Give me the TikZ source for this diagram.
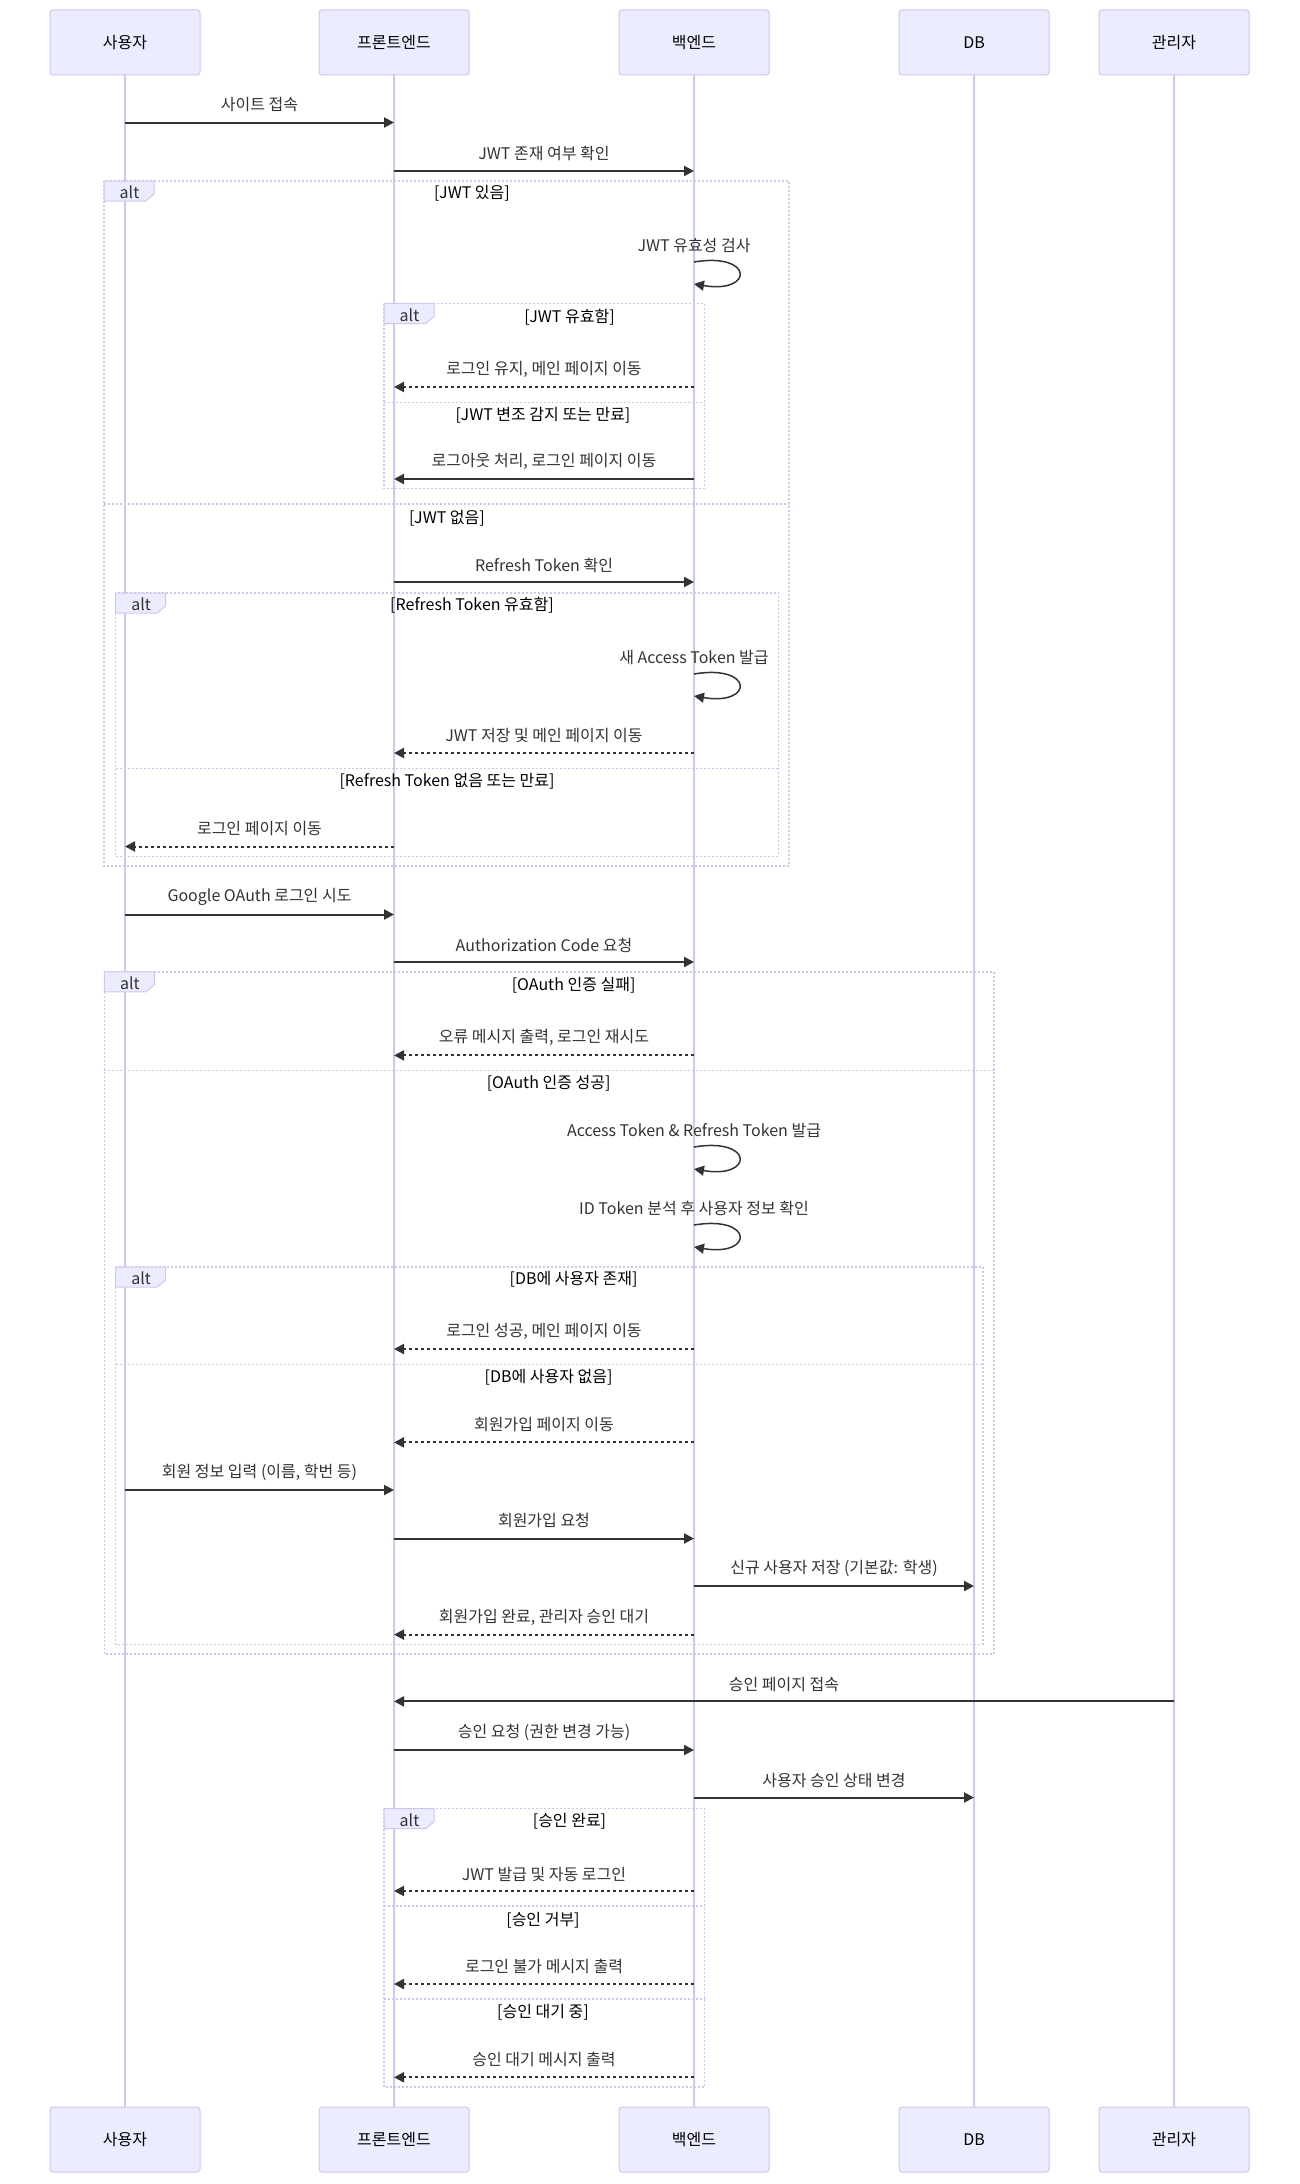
\documentclass[tikz,border=0pt]{standalone}
\usepackage{fontspec}
\setmainfont{Noto Sans CJK KR}
\usetikzlibrary{arrows.meta}
\definecolor{actorfill}{HTML}{ECECFF}
\definecolor{actorline}{HTML}{D2C6F0}
\definecolor{msgcolor}{HTML}{333333}

\begin{document}
\begin{tikzpicture}[x=1pt,y=-1pt]
      \tikzstyle{actor} = [
        rectangle,
        draw=actorline,
        fill=actorfill,
        line width=1pt,
        rounded corners=3pt,
        minimum width=150pt,
        minimum height=65pt,
        inner sep=0pt,
        font=\fontsize{16pt}{19pt}\selectfont
      ]
      \tikzstyle{lifeline} = [draw=actorline, line width=1.5pt]
      \tikzstyle{frame} = [draw=actorline, line width=1.5pt, dash pattern=on 2pt off 2pt]
      \tikzstyle{tag} = [draw=actorline, fill=actorfill, line width=1pt]
      \tikzstyle{msglabel} = [
        text=msgcolor,
        inner sep=0pt,
        yshift=-1.5pt,
        font=\fontsize{16pt}{19pt}\selectfont
      ]
      \tikzstyle{guard} = [msglabel, text=black]
      \tikzstyle{msg} = [draw=msgcolor, line width=2pt, -{Triangle[length=10pt,width=10pt]}]
      \tikzstyle{reply} = [msg, dash pattern=on 3pt off 3pt]
      \tikzstyle{selfmsg} = [draw=msgcolor, line width=1.5pt, -{Triangle[length=10pt,width=10pt]}]

      \fill[white] (0,0) rectangle (1299,2184);
      \useasboundingbox (0,0) rectangle (1299,2184);

      % participants
      \node[actor] (usrTop) at (125,42.5) {사용자};
      \node[actor] (feTop) at (394,42.5) {프론트엔드};
      \node[actor] (beTop) at (694,42.5) {백엔드};
      \node[actor] (dbTop) at (974,42.5) {DB};
      \node[actor] (admTop) at (1174,42.5) {관리자};
      \node[actor] (usrBot) at (125,2139.5) {사용자};
      \node[actor] (feBot) at (394,2139.5) {프론트엔드};
      \node[actor] (beBot) at (694,2139.5) {백엔드};
      \node[actor] (dbBot) at (974,2139.5) {DB};
      \node[actor] (admBot) at (1174,2139.5) {관리자};

      % frames
      \draw[frame] (104,181) rectangle (789,866);
      \draw[frame] (104,504) -- (789,504);
      \draw[frame] (384,303.5) rectangle (704.5,488.7);
      \draw[frame] (384,402.4) -- (704.5,402.4);
      \draw[frame] (115.6,593) rectangle (778.3,856.3);
      \draw[frame] (115.6,768.5) -- (778.3,768.5);
      \draw[frame] (104.4,971.8) rectangle (994,1654);
      \draw[frame] (104.4,1070.7) -- (994,1070.7);
      \draw[frame] (115.6,1267) rectangle (983,1644.3);
      \draw[frame] (115.6,1364.5) -- (983,1364.5);
      \draw[frame] (384,1808.6) rectangle (704.5,2087);
      \draw[frame] (384,1906) -- (704.5,1906);
      \draw[frame] (384,1999) -- (704.5,1999);

      % lifelines
      \draw[lifeline] (usrTop.south) -- (usrBot.north);
      \draw[lifeline] (feTop.south) -- (feBot.north);
      \draw[lifeline] (beTop.south) -- (beBot.north);
      \draw[lifeline] (dbTop.south) -- (dbBot.north);
      \draw[lifeline] (admTop.south) -- (admBot.north);

      % alt tags
      \draw[tag] (104,181) -- ++(50,0) -- ++(0,13) -- ++(-8.4,7) -- ++(-41.6,0) -- cycle;
      \node[msglabel] (tag1) at (129.5,191) {alt};
      \draw[tag] (384,303.5) -- ++(50,0) -- ++(0,13) -- ++(-8.4,7) -- ++(-41.6,0) -- cycle;
      \node[msglabel] (tag2) at (409.5,313.5) {alt};
      \draw[tag] (115.6,593) -- ++(50,0) -- ++(0,13) -- ++(-8.4,7) -- ++(-41.6,0) -- cycle;
      \node[msglabel] (tag3) at (141.1,603) {alt};
      \draw[tag] (104.4,971.8) -- ++(50,0) -- ++(0,13) -- ++(-8.4,7) -- ++(-41.6,0) -- cycle;
      \node[msglabel] (tag4) at (129.9,981.8) {alt};
      \draw[tag] (115.6,1267) -- ++(50,0) -- ++(0,13) -- ++(-8.4,7) -- ++(-41.6,0) -- cycle;
      \node[msglabel] (tag5) at (141.1,1277) {alt};
      \draw[tag] (384,1808.6) -- ++(50,0) -- ++(0,13) -- ++(-8.4,7) -- ++(-41.6,0) -- cycle;
      \node[msglabel] (tag6) at (409.5,1818.6) {alt};

      % guards
      \node[guard] (g1a) at (472,192) {[JWT 있음]};
      \node[guard] (g1b) at (447,516.5) {[JWT 없음]};
      \node[guard] (g2a) at (569.5,316) {[JWT 유효함]};
      \node[guard] (g2b) at (543,413.5) {[JWT 변조 감지 또는 만료]};
      \node[guard] (g3a) at (472,604) {[Refresh Token 유효함]};
      \node[guard] (g3b) at (447,780) {[Refresh Token 없음 또는 만료]};
      \node[guard] (g4a) at (573.6,984) {[OAuth 인증 실패]};
      \node[guard] (g4b) at (548.6,1082) {[OAuth 인증 성공]};
      \node[guard] (g5a) at (573.6,1278) {[DB에 사용자 존재]};
      \node[guard] (g5b) at (548.6,1375.6) {[DB에 사용자 없음]};
      \node[guard] (g6a) at (569.5,1820) {[승인 완료]};
      \node[guard] (g6b) at (543,1918.6) {[승인 거부]};
      \node[guard] (g6c) at (543,2010.5) {[승인 대기 중]};

      % JWT check
      \node[msglabel] (m1) at (259.5,103.5) {사이트 접속};
      \draw[msg] (usrTop |- 0,122.5) -- (feTop |- 0,122.5);
      \node[msglabel] (m2) at (544,152) {JWT 존재 여부 확인};
      \draw[msg] (feTop |- 0,171) -- (beTop |- 0,171);
      \node[msglabel] (m3) at (694,244) {JWT 유효성 검사};
      \draw[selfmsg] (beTop |- 0,262) .. controls +(60,-10) and +(60,10) .. (beTop |- 0,284);
      \node[msglabel] (m4) at (544,368) {로그인 유지, 메인 페이지 이동};
      \draw[reply] (beTop |- 0,387) -- (feTop |- 0,387);
      \node[msglabel] (m5) at (544,460) {로그아웃 처리, 로그인 페이지 이동};
      \draw[msg] (beTop |- 0,479) -- (feTop |- 0,479);

      % refresh token
      \node[msglabel] (m6) at (544,564) {Refresh Token 확인};
      \draw[msg] (feTop |- 0,582) -- (beTop |- 0,582);
      \node[msglabel] (m7) at (694,656) {새 Access Token 발급};
      \draw[selfmsg] (beTop |- 0,674) .. controls +(60,-10) and +(60,10) .. (beTop |- 0,696);
      \node[msglabel] (m8) at (544,734) {JWT 저장 및 메인 페이지 이동};
      \draw[reply] (beTop |- 0,753) -- (feTop |- 0,753);
      \node[msglabel] (m9) at (259.5,827) {로그인 페이지 이동};
      \draw[reply] (feTop |- 0,846.5) -- (usrTop |- 0,846.5);

      % OAuth
      \node[msglabel] (m10) at (259.5,895) {Google OAuth 로그인 시도};
      \draw[msg] (usrTop |- 0,914.5) -- (feTop |- 0,914.5);
      \node[msglabel] (m11) at (544,944) {Authorization Code 요청};
      \draw[msg] (feTop |- 0,962) -- (beTop |- 0,962);
      \node[msglabel] (m12) at (544,1036) {오류 메시지 출력, 로그인 재시도};
      \draw[reply] (beTop |- 0,1055.4) -- (feTop |- 0,1055.4);
      \node[msglabel] (m13) at (694,1129) {Access Token \& Refresh Token 발급};
      \draw[selfmsg] (beTop |- 0,1147) .. controls +(60,-10) and +(60,10) .. (beTop |- 0,1169);
      \node[msglabel] (m14) at (694,1207) {ID Token 분석 후 사용자 정보 확인};
      \draw[selfmsg] (beTop |- 0,1225) .. controls +(60,-10) and +(60,10) .. (beTop |- 0,1247);
      \node[msglabel] (m15) at (544,1330) {로그인 성공, 메인 페이지 이동};
      \draw[reply] (beTop |- 0,1349) -- (feTop |- 0,1349);

      % sign up
      \node[msglabel] (m16) at (544,1423) {회원가입 페이지 이동};
      \draw[reply] (beTop |- 0,1442.4) -- (feTop |- 0,1442.4);
      \node[msglabel] (m17) at (259.5,1470.5) {회원 정보 입력 (이름, 학번 등)};
      \draw[msg] (usrTop |- 0,1490) -- (feTop |- 0,1490);
      \node[msglabel] (m18) at (544,1519) {회원가입 요청};
      \draw[msg] (feTop |- 0,1538.5) -- (beTop |- 0,1538.5);
      \node[msglabel] (m19) at (834,1566.5) {신규 사용자 저장 (기본값: 학생)};
      \draw[msg] (beTop |- 0,1586) -- (dbTop |- 0,1586);
      \node[msglabel] (m20) at (544,1615.5) {회원가입 완료, 관리자 승인 대기};
      \draw[reply] (beTop |- 0,1634.6) -- (feTop |- 0,1634.6);

      % approval
      \node[msglabel] (m21) at (784,1683) {승인 페이지 접속};
      \draw[msg] (admTop |- 0,1701.4) -- (feTop |- 0,1701.4);
      \node[msglabel] (m22) at (544,1731) {승인 요청 (권한 변경 가능)};
      \draw[msg] (feTop |- 0,1750) -- (beTop |- 0,1750);
      \node[msglabel] (m23) at (834,1779) {사용자 승인 상태 변경};
      \draw[msg] (beTop |- 0,1797.5) -- (dbTop |- 0,1797.5);
      \node[msglabel] (m24) at (544,1873) {JWT 발급 및 자동 로그인};
      \draw[reply] (beTop |- 0,1891) -- (feTop |- 0,1891);
      \node[msglabel] (m25) at (544,1965) {로그인 불가 메시지 출력};
      \draw[reply] (beTop |- 0,1984) -- (feTop |- 0,1984);
      \node[msglabel] (m26) at (544,2058) {승인 대기 메시지 출력};
      \draw[reply] (beTop |- 0,2077.3) -- (feTop |- 0,2077.3);
\end{tikzpicture}
\end{document}
